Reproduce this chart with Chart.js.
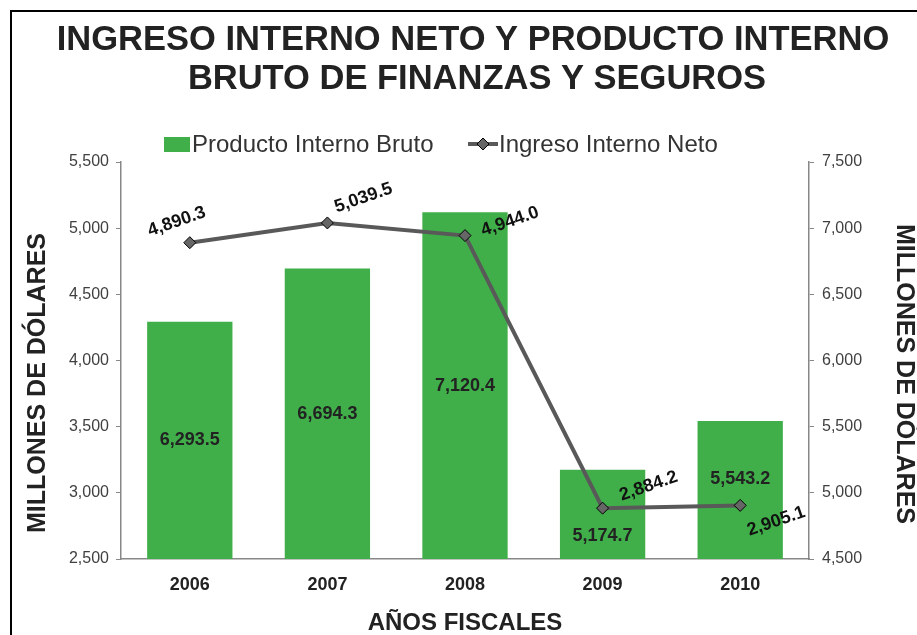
<!DOCTYPE html>
<html>
<head>
<meta charset="utf-8">
<script src="https://cdn.jsdelivr.net/npm/chart.js@4.4.1/dist/chart.umd.min.js"></script>
<style>
  html, body { margin: 0; padding: 0; background: #fff; }
  #wrap { width: 917px; height: 635px; position: relative; }
</style>
</head>
<body>
<div id="wrap"><canvas id="c" width="917" height="635"></canvas></div>
<script>
// ---- data ----
const years = ['2006', '2007', '2008', '2009', '2010'];
const pibValues = [6293.5, 6694.3, 7120.4, 5174.7, 5543.2];      // Producto Interno Bruto (right axis)
const ingresoValues = [4890.3, 5039.5, 4944.0, 2884.2, 2905.1];  // Ingreso Interno Neto (left axis)
const titleLines = ['INGRESO INTERNO NETO Y PRODUCTO INTERNO', 'BRUTO DE FINANZAS Y SEGUROS'];
const seriesNames = ['Producto Interno Bruto', 'Ingreso Interno Neto'];
const yTitle = 'MILLONES DE DÓLARES';
const xTitle = 'AÑOS FISCALES';

// ---- style ----
const FONT = '"Liberation Sans", Arial, sans-serif';
const GREEN = '#40AF4A';
const LINE = '#595959';
const barLabelShift = [0, 0, 0, 22, -11];
const lineLabelOffsets = [[-13, -21], [36, -25], [45, -14], [46, -22], [36, 16]];

function fmt(v) {
  const fixed = v.toFixed(1);
  const parts = fixed.split('.');
  return parts[0].replace(/\B(?=(\d{3})+(?!\d))/g, ',') + '.' + parts[1];
}
function fmtInt(v) {
  return String(Math.round(v)).replace(/\B(?=(\d{3})+(?!\d))/g, ',');
}

const decor = {
  id: 'decor',
  beforeDraw(chart) {
    const ctx = chart.ctx;
    ctx.save();
    ctx.fillStyle = '#fff';
    ctx.fillRect(0, 0, chart.width, chart.height);
    // frame
    ctx.strokeStyle = '#000';
    ctx.lineWidth = 2;
    ctx.beginPath();
    ctx.moveTo(11, chart.height);
    ctx.lineTo(11, 11);
    ctx.lineTo(chart.width, 11);
    ctx.stroke();
    // title
    ctx.fillStyle = '#222';
    ctx.font = 'bold 34.5px ' + FONT;
    ctx.textAlign = 'center';
    ctx.textBaseline = 'alphabetic';
    ctx.fillText(titleLines[0], 473, 50);
    ctx.fillText(titleLines[1], 477, 89);
    // legend
    ctx.font = '24px ' + FONT;
    ctx.textAlign = 'left';
    ctx.fillStyle = GREEN;
    ctx.fillRect(164, 137, 26, 15);
    ctx.fillStyle = '#333';
    ctx.fillText(seriesNames[0], 192, 152);
    ctx.strokeStyle = LINE;
    ctx.lineWidth = 4;
    ctx.beginPath();
    ctx.moveTo(468, 144);
    ctx.lineTo(498, 144);
    ctx.stroke();
    ctx.fillStyle = '#666';
    ctx.strokeStyle = '#000';
    ctx.lineWidth = 1;
    ctx.beginPath();
    ctx.moveTo(483, 138); ctx.lineTo(489, 144); ctx.lineTo(483, 150); ctx.lineTo(477, 144); ctx.closePath();
    ctx.fill(); ctx.stroke();
    ctx.fillStyle = '#333';
    ctx.fillText(seriesNames[1], 499, 152);
    // axis titles (vertical)
    ctx.font = 'bold 25px ' + FONT;
    ctx.fillStyle = '#222';
    ctx.textAlign = 'center';
    ctx.textBaseline = 'middle';
    ctx.save();
    ctx.translate(38, 383);
    ctx.rotate(-Math.PI / 2);
    ctx.fillText(yTitle, 0, 0);
    ctx.restore();
    ctx.save();
    ctx.translate(904, 374);
    ctx.rotate(Math.PI / 2);
    ctx.fillText(yTitle, 0, 0);
    ctx.restore();
    ctx.restore();
  },
  afterDraw(chart) {
    const ctx = chart.ctx;
    ctx.save();
    ctx.font = 'bold 18px ' + FONT;
    ctx.textAlign = 'center';
    ctx.textBaseline = 'middle';
    const yR = chart.scales.y1;
    const base = yR.getPixelForValue(yR.min);
    const barMeta = chart.getDatasetMeta(1);
    ctx.fillStyle = '#222';
    barMeta.data.forEach((el, i) => {
      const top = yR.getPixelForValue(pibValues[i]);
      const y = (top + base) / 2 + barLabelShift[i];
      ctx.fillText(fmt(pibValues[i]), el.x, y);
    });
    const lineMeta = chart.getDatasetMeta(0);
    ctx.fillStyle = '#111';
    lineMeta.data.forEach((el, i) => {
      ctx.save();
      ctx.translate(el.x + lineLabelOffsets[i][0], el.y + lineLabelOffsets[i][1]);
      ctx.rotate(-19 * Math.PI / 180);
      ctx.fillText(fmt(ingresoValues[i]), 0, 0);
      ctx.restore();
    });
    ctx.restore();
  }
};

new Chart(document.getElementById('c'), {
  data: {
    labels: years,
    datasets: [
      {
        type: 'line',
        label: seriesNames[1],
        data: ingresoValues,
        yAxisID: 'y',
        borderColor: LINE,
        borderWidth: 4,
        pointStyle: 'rectRot',
        pointRadius: 6,
        pointBackgroundColor: '#666',
        pointBorderColor: '#000',
        pointBorderWidth: 1,
        tension: 0,
        order: 0
      },
      {
        type: 'bar',
        label: seriesNames[0],
        data: pibValues,
        yAxisID: 'y1',
        backgroundColor: GREEN,
        barPercentage: 0.62,
        categoryPercentage: 1,
        order: 1
      }
    ]
  },
  options: {
    responsive: false,
    animation: false,
    devicePixelRatio: 1,
    layout: { padding: { top: 162, left: 0, right: 0, bottom: 0 } },
    plugins: { legend: { display: false }, title: { display: false }, tooltip: { enabled: false } },
    scales: {
      x: {
        grid: { drawOnChartArea: false, drawTicks: false },
        border: { display: true, color: '#888', width: 1.5 },
        ticks: { color: '#222', font: { family: FONT, size: 18, weight: 'bold' }, padding: 15 },
        title: { display: true, text: xTitle, color: '#222', font: { family: FONT, size: 24, weight: 'bold', lineHeight: 1 }, padding: 0 },
        afterFit(s) { s.height = 76; }
      },
      y: {
        position: 'left',
        min: 2500, max: 5500,
        ticks: { stepSize: 500, color: '#404040', font: { family: FONT, size: 16 }, padding: 7, callback: v => fmtInt(v) },
        grid: { drawOnChartArea: false, drawTicks: true, tickLength: 5, color: '#888' },
        border: { display: true, color: '#888', width: 1.5 },
        title: { display: false },
        afterFit(s) { s.width = 121; }
      },
      y1: {
        position: 'right',
        min: 4500, max: 7500,
        ticks: { stepSize: 500, color: '#404040', font: { family: FONT, size: 16 }, padding: 8, callback: v => fmtInt(v) },
        grid: { drawOnChartArea: false, drawTicks: true, tickLength: 5, color: '#888' },
        border: { display: true, color: '#888', width: 1.5 },
        title: { display: false },
        afterFit(s) { s.width = 108; }
      }
    }
  },
  plugins: [decor]
});
</script>
</body>
</html>
